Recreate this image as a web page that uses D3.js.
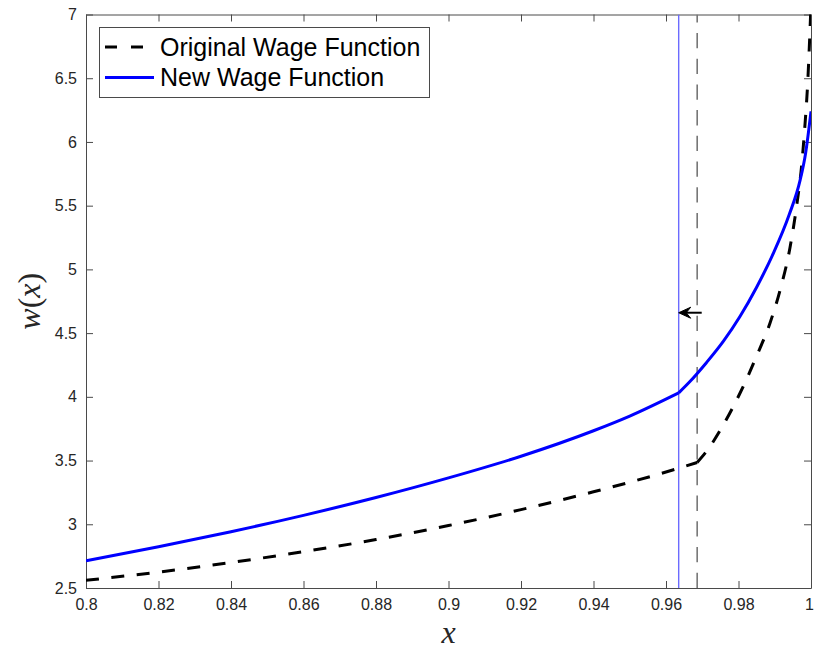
<!DOCTYPE html>
<html>
<head>
<meta charset="utf-8">
<script src="https://cdn.jsdelivr.net/npm/d3@7"></script>
<style>
  html, body { margin: 0; padding: 0; background: #fff; }
  svg { display: block; }
</style>
</head>
<body>
<svg id="chart" width="814" height="652"></svg>
<script>
// Wage functions w(x): each has a kink where the cutoff sits, so every
// series is kept as two pieces (below and above the cutoff).
const originalLowX = [0.80, 0.82, 0.84, 0.86, 0.88, 0.90, 0.92, 0.94, 0.96, 0.9686];
const originalLowW = [2.56, 2.625, 2.70, 2.785, 2.88, 2.99, 3.115, 3.255, 3.41, 3.485];
const originalHighX = [0.9686, 0.9721, 0.9758, 0.9804, 0.985, 0.9887, 0.9914, 0.9942, 0.996, 0.9974, 0.9983, 0.9991, 0.9997, 1.0];
const originalHighW = [3.485, 3.609, 3.779, 4.028, 4.32, 4.58, 4.83, 5.17, 5.49, 5.81, 6.12, 6.47, 6.86, 7.08];

const newLowX = [0.80, 0.82, 0.84, 0.86, 0.88, 0.90, 0.92, 0.94, 0.95, 0.9635];
const newLowW = [2.714, 2.824, 2.942, 3.07, 3.21, 3.364, 3.534, 3.734, 3.849, 4.031];
const newHighX = [0.9635, 0.9666, 0.9712, 0.9758, 0.9804, 0.985, 0.9896, 0.994, 0.997, 0.9985, 1.0];
const newHighW = [4.031, 4.12, 4.27, 4.435, 4.63, 4.86, 5.125, 5.43, 5.70, 5.91, 6.24];

// Cutoff positions and the shift arrow between them
const originalCutoff = 0.9686;
const newCutoff = 0.9635;
const arrowFromX = 0.96985;
const arrowW = 4.66;

const xTicks = [0.80, 0.82, 0.84, 0.86, 0.88, 0.90, 0.92, 0.94, 0.96, 0.98, 1.00];
const xTickLabels = ["0.8", "0.82", "0.84", "0.86", "0.88", "0.9", "0.92", "0.94", "0.96", "0.98", "1"];
const yTicks = [2.5, 3, 3.5, 4, 4.5, 5, 5.5, 6, 6.5, 7];
const yTickLabels = ["2.5", "3", "3.5", "4", "4.5", "5", "5.5", "6", "6.5", "7"];

const seriesNames = ["Original Wage Function", "New Wage Function"];

// ---- layout ----
const plot = { left: 86, right: 811, top: 14.5, bottom: 588 };
const axisColor = "#4a4a4a";
const labelColor = "#262626";
const uiFont = "'Liberation Sans', Arial, Helvetica, sans-serif";
const mathFont = "'Liberation Serif', 'Times New Roman', serif";

const svg = d3.select("#chart");

const x = d3.scaleLinear().domain([0.8, 1]).range([plot.left, plot.right]);
const y = d3.scaleLinear().domain([2.5, 7]).range([plot.bottom, plot.top]);

svg.append("defs").append("clipPath").attr("id", "plot-clip")
  .append("rect")
  .attr("x", plot.left).attr("y", plot.top)
  .attr("width", plot.right - plot.left).attr("height", plot.bottom - plot.top);

// ---- axes (ticks point inward on all four sides) ----
const tickLen = 7;
function styleAxis(g) {
  g.selectAll(".domain").attr("stroke", axisColor).attr("stroke-width", 1);
  g.selectAll(".tick line").attr("stroke", axisColor).attr("stroke-width", 1);
  g.selectAll(".tick text").attr("fill", labelColor)
    .style("font-family", uiFont).style("font-size", "16px");
}

const xAxisG = svg.append("g")
  .attr("transform", `translate(0,${plot.bottom})`)
  .call(d3.axisBottom(x).tickValues(xTicks)
    .tickFormat((d, i) => xTickLabels[i])
    .tickSizeInner(-tickLen).tickSizeOuter(0).tickPadding(11))
  .call(styleAxis);
// keep the last label inside the canvas
xAxisG.selectAll(".tick").filter(d => d === 1).select("text").attr("dx", "-2");

svg.append("g")
  .attr("transform", `translate(0,${plot.top})`)
  .call(d3.axisTop(x).tickValues(xTicks).tickFormat("")
    .tickSizeInner(-tickLen).tickSizeOuter(0))
  .call(styleAxis);

svg.append("g")
  .attr("transform", `translate(${plot.left},0)`)
  .call(d3.axisLeft(y).tickValues(yTicks)
    .tickFormat((d, i) => yTickLabels[i])
    .tickSizeInner(-tickLen).tickSizeOuter(0).tickPadding(9))
  .call(styleAxis);

svg.append("g")
  .attr("transform", `translate(${plot.right},0)`)
  .call(d3.axisRight(y).tickValues(yTicks).tickFormat("")
    .tickSizeInner(-tickLen).tickSizeOuter(0))
  .call(styleAxis);

// ---- curves ----
const line = d3.line()
  .x(d => x(d[0]))
  .y(d => y(d[1]))
  .curve(d3.curveMonotoneX);

const zip = (xs, ws) => xs.map((v, i) => [v, ws[i]]);
const curves = svg.append("g").attr("clip-path", "url(#plot-clip)");

// cutoff markers
curves.append("line")
  .attr("x1", x(originalCutoff)).attr("x2", x(originalCutoff))
  .attr("y1", plot.bottom).attr("y2", plot.top)
  .attr("stroke", "#777").attr("stroke-width", 1.6)
  .attr("stroke-dasharray", "15.3,10.4");

curves.append("line")
  .attr("x1", x(newCutoff)).attr("x2", x(newCutoff))
  .attr("y1", plot.bottom).attr("y2", plot.top)
  .attr("stroke", "#6b6bff").attr("stroke-width", 1.4);

[zip(originalLowX, originalLowW), zip(originalHighX, originalHighW)].forEach(seg => {
  curves.append("path")
    .attr("d", line(seg))
    .attr("fill", "none")
    .attr("stroke", "#000")
    .attr("stroke-width", 3)
    .attr("stroke-dasharray", "13,12.5");
});

[zip(newLowX, newLowW), zip(newHighX, newHighW)].forEach(seg => {
  curves.append("path")
    .attr("d", line(seg))
    .attr("fill", "none")
    .attr("stroke", "#0000ff")
    .attr("stroke-width", 3)
    .attr("stroke-linejoin", "round");
});

// ---- shift arrow from old cutoff to new cutoff ----
const ax0 = x(arrowFromX), ax1 = x(newCutoff), ay = y(arrowW);
svg.append("line")
  .attr("x1", ax0).attr("x2", ax1 + 3).attr("y1", ay).attr("y2", ay)
  .attr("stroke", "#000").attr("stroke-width", 2);
svg.append("path")
  .attr("d", `M${ax1},${ay} L${ax1 + 12},${ay - 5.5} L${ax1 + 7.5},${ay} L${ax1 + 12},${ay + 5.5} Z`)
  .attr("fill", "#000").attr("stroke", "#000").attr("stroke-width", 1)
  .attr("stroke-linejoin", "miter");

// ---- legend ----
const legend = svg.append("g");
legend.append("rect")
  .attr("x", 99.5).attr("y", 27.5).attr("width", 330).attr("height", 70)
  .attr("fill", "#fff").attr("stroke", axisColor).attr("stroke-width", 1);

const legendRows = [
  { name: seriesNames[0], color: "#000", dash: "12,14", cy: 47 },
  { name: seriesNames[1], color: "#0000ff", dash: null, cy: 77.5 }
];
legendRows.forEach(r => {
  legend.append("line")
    .attr("x1", 105).attr("x2", 154).attr("y1", r.cy).attr("y2", r.cy)
    .attr("stroke", r.color).attr("stroke-width", 3)
    .attr("stroke-dasharray", r.dash);
  legend.append("text")
    .attr("x", 160).attr("y", r.cy + 8.5)
    .attr("fill", "#000")
    .style("font-family", uiFont).style("font-size", "25px")
    .text(r.name);
});

// ---- axis titles ----
svg.append("text")
  .attr("x", (plot.left + plot.right) / 2).attr("y", 643)
  .attr("text-anchor", "middle")
  .style("font-family", mathFont).style("font-size", "32px").style("font-style", "italic")
  .attr("fill", labelColor)
  .text("x");

const yTitle = svg.append("text")
  .attr("transform", `translate(40,${(plot.top + plot.bottom) / 2}) rotate(-90)`)
  .attr("text-anchor", "middle")
  .style("font-family", mathFont).style("font-size", "32px")
  .attr("fill", labelColor);
yTitle.append("tspan").style("font-style", "italic").text("w");
yTitle.append("tspan").text("(");
yTitle.append("tspan").style("font-style", "italic").text("x");
yTitle.append("tspan").text(")");
</script>
</body>
</html>
